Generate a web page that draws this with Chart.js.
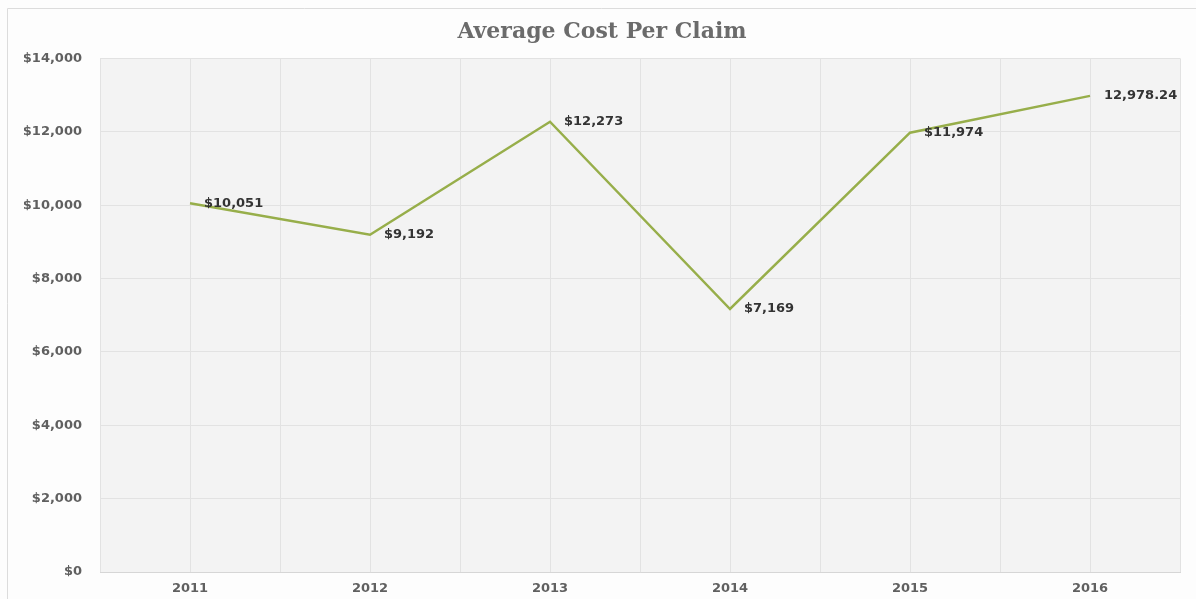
<!DOCTYPE html>
<html>
<head>
<meta charset="utf-8">
<script src="https://cdn.jsdelivr.net/npm/chart.js@4"></script>
<style>
  html, body { margin: 0; padding: 0; background: #fff; }
  #wrap { width: 1196px; height: 599px; }
</style>
</head>
<body>
<div id="wrap"><canvas id="chart" width="1196" height="599"></canvas></div>
<script>
const years = ["2011", "2012", "2013", "2014", "2015", "2016"];
const avgCost = [10051, 9192, 12273, 7169, 11974, 12978.24];
const pointLabels = ["$10,051", "$9,192", "$12,273", "$7,169", "$11,974", "12,978.24"];
const yTicks = [0, 2000, 4000, 6000, 8000, 10000, 12000, 14000];

// page frame + grey plot background + extra grid lines at category borders
const frame = {
  id: "frame",
  beforeDraw(c) {
    const ctx = c.ctx, a = c.chartArea;
    ctx.save();
    ctx.fillStyle = "#fdfdfd";
    ctx.fillRect(0, 0, c.width, c.height);
    ctx.strokeStyle = "#dcdcdc";
    ctx.lineWidth = 1;
    ctx.beginPath();
    ctx.moveTo(7.5, c.height);
    ctx.lineTo(7.5, 8.5);
    ctx.lineTo(c.width, 8.5);
    ctx.stroke();
    ctx.fillStyle = "#f3f3f3";
    ctx.fillRect(a.left, a.top, a.right - a.left, a.bottom - a.top);
    ctx.restore();
  },
  beforeDatasetsDraw(c) {
    const ctx = c.ctx, a = c.chartArea, x = c.scales.x;
    const half = (x.getPixelForValue(1) - x.getPixelForValue(0)) / 2;
    ctx.save();
    ctx.strokeStyle = "#e2e2e2";
    ctx.lineWidth = 1;
    for (let i = 0; i <= years.length; i++) {
      const px = Math.round(x.getPixelForValue(i) - half) + 0.5;
      ctx.beginPath();
      ctx.moveTo(px, a.top);
      ctx.lineTo(px, a.bottom);
      ctx.stroke();
    }
    ctx.restore();
  }
};

const valueLabels = {
  id: "valueLabels",
  afterDatasetsDraw(c) {
    const ctx = c.ctx;
    const meta = c.getDatasetMeta(0);
    ctx.save();
    ctx.font = "bold 13px 'DejaVu Sans'";
    ctx.fillStyle = "#333";
    ctx.textBaseline = "middle";
    ctx.textAlign = "left";
    meta.data.forEach((pt, i) => {
      ctx.fillText(pointLabels[i], pt.x + 14, pt.y);
    });
    ctx.restore();
  }
};

new Chart(document.getElementById("chart"), {
  type: "line",
  data: {
    labels: years,
    datasets: [{
      label: "Average Cost Per Claim",
      data: avgCost,
      borderColor: "#97ae4a",
      borderWidth: 2.5,
      pointRadius: 0,
      tension: 0,
      fill: false
    }]
  },
  options: {
    responsive: false,
    animation: false,
    layout: { padding: { top: 8, right: 16, bottom: 0, left: 24 } },
    plugins: {
      legend: { display: false },
      tooltip: { enabled: false },
      title: {
        display: true,
        text: "Average Cost Per Claim",
        color: "#6b6b6b",
        font: { family: "'DejaVu Serif'", size: 22, weight: "bold" },
        lineHeight: 1.1,
        padding: { top: 11, bottom: 13 }
      }
    },
    scales: {
      x: {
        offset: true,
        grid: { offset: false, color: "#e2e2e2", drawTicks: false },
        border: { color: "#d6d6d6" },
        ticks: { color: "#606060", padding: 9, font: { family: "'DejaVu Sans'", size: 13, weight: "bold" } },
        afterFit(s) { s.height = 27; }
      },
      y: {
        min: 0,
        max: 14000,
        afterBuildTicks(s) { s.ticks = yTicks.map(v => ({ value: v })); },
        grid: { color: "#e2e2e2", drawTicks: false },
        border: { display: false },
        ticks: {
          color: "#606060",
          padding: 18,
          font: { family: "'DejaVu Sans'", size: 13, weight: "bold" },
          callback: v => "$" + v.toLocaleString("en-US")
        },
        afterFit(s) { s.width = 76; }
      }
    }
  },
  plugins: [frame, valueLabels]
});
</script>
</body>
</html>
